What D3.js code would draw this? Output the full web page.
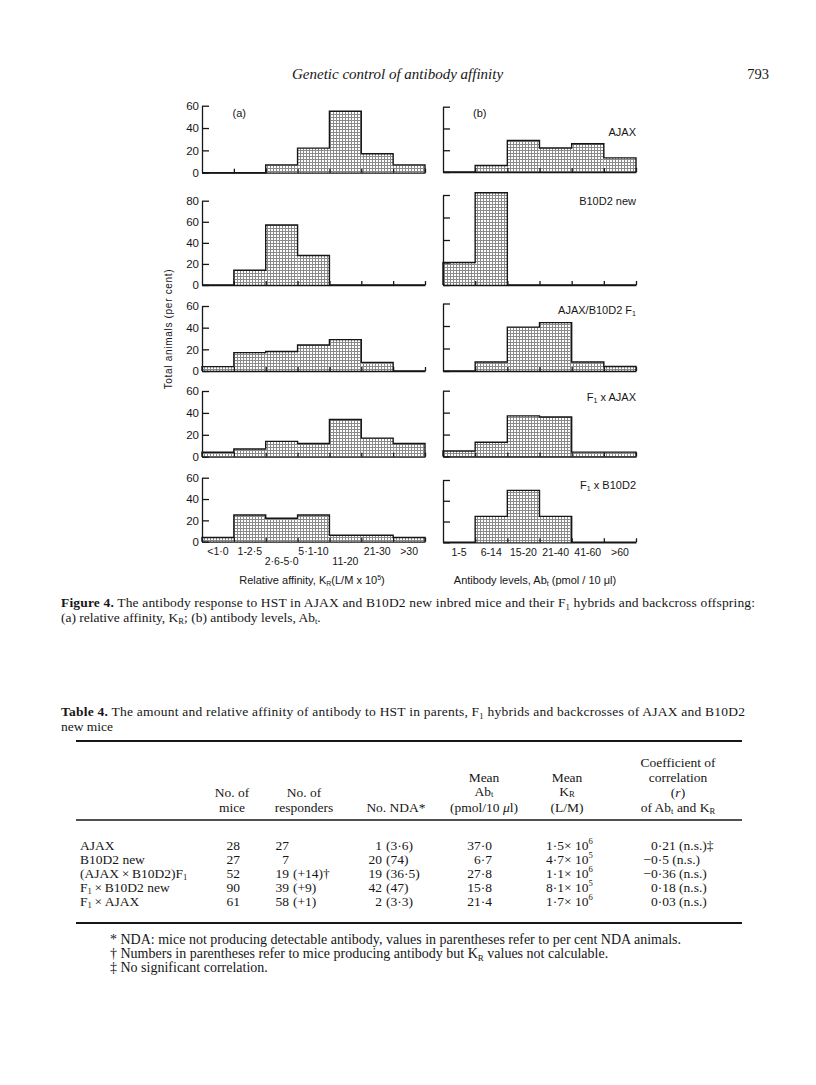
<!DOCTYPE html>
<html><head><meta charset="utf-8">
<script src="https://cdn.jsdelivr.net/npm/d3@7"></script>
<style>body{margin:0;background:#fff}</style>
</head><body>
<svg id="c" width="816" height="1085"></svg>
<script>
// ---------- DATA ----------
const affinityBins = ["<1·0","1-2·5","2·6-5·0","5·1-10","11-20","21-30",">30"];
const antibodyBins = ["1-5","6-14","15-20","21-40","41-60",">60"];
const groupLabels = ["AJAX","B10D2 new","AJAX/B10D2 F_{1}","F_{1} x AJAX","F_{1} x B10D2"];
const affinityAJAX     = [0,0,7,22,55,17,7];
const affinityB10D2    = [0,14,57,28,0,0,0];
const affinityF1       = [4,17,18,24,29,8,0];
const affinityF1xAJAX  = [4,7,14,12,34,17,12];
const affinityF1xB10D2 = [4,25,22,25,6,6,4];
const antibodyAJAX     = [0,6,29,22,26,13];
const antibodyB10D2    = [20,82,0,0,0,0];
const antibodyF1       = [0,8,39,43,8,4];
const antibodyF1xAJAX  = [5,13,37,36,4,4];
const antibodyF1xB10D2 = [0,25,50,25,0,0];
const yTicks60 = [0,20,40,60];
const yTicks80 = [0,20,40,60,80];

const tableRows = ["AJAX","B10D2 new","(AJAX\u2009×\u2009B10D2)F_{1}","F_{1}\u2009×\u2009B10D2 new","F_{1}\u2009×\u2009AJAX"];
const noMice = ["28","27","52","90","61"];
const noResponders = ["27","7","19","39","58"];
const respondersExtra = ["","","(+14)†","(+9)","(+1)"];
const noNDA = ["1","20","19","42","2"];
const ndaPercent = ["(3·6)","(74)","(36·5)","(47)","(3·3)"];
const meanAb = ["37·0","6·7","27·8","15·8","21·4"];
const meanKrMant = ["1·5","4·7","1·1","8·1","1·7"];
const meanKrExp = ["6","5","6","5","6"];
const corrValues = ["0·21","−0·5","−0·36","0·18","0·03"];
const corrNotes = [" (n.s.)‡"," (n.s.)"," (n.s.)"," (n.s.)"," (n.s.)"];

// ---------- HELPERS ----------
const svg = d3.select('#c');
const SANS = "'Liberation Sans', Arial, sans-serif";
const SERIF = "'Liberation Serif', 'Times New Roman', serif";
const INK = '#161616';

function rich(sel, str, fs, subShift){
  const parts = str.split(/(_\{[^}]*\}|\^\{[^}]*\}|\*\{[^}]*\}|~\{[^}]*\})/).filter(s=>s.length);
  let off = 0;
  const ss = subShift === undefined ? 0.2 : subShift;
  parts.forEach(p=>{
    let t = p, target = 0, small = false, bold = false, ital = false;
    if(p.startsWith('_{')){t=p.slice(2,-1); target=fs*ss; small=true;}
    else if(p.startsWith('^{')){t=p.slice(2,-1); target=-fs*0.38; small=true;}
    else if(p.startsWith('*{')){t=p.slice(2,-1); bold=true;}
    else if(p.startsWith('~{')){t=p.slice(2,-1); ital=true;}
    const ts = sel.append('tspan').text(t);
    if(target-off !== 0) ts.attr('dy', target-off);
    if(small) ts.attr('font-size', fs*0.64);
    if(bold) ts.attr('font-weight','bold');
    if(ital) ts.attr('font-style','italic');
    off = target;
  });
  return sel;
}
function txt(x, y, str, o={}){
  const fs = o.size || 13.5;
  const t = svg.append('text').attr('x',x).attr('y',y)
    .attr('font-family', o.family || SERIF).attr('font-size', fs)
    .attr('fill', INK).attr('text-anchor', o.anchor || 'start');
  if(o.style) t.attr('font-style', o.style);
  if(o.weight) t.attr('font-weight', o.weight);
  if(o.ls) t.attr('letter-spacing', o.ls);
  if(o.len) t.attr('textLength', o.len).attr('lengthAdjust','spacing');
  rich(t, str, fs, o.sub);
  return t;
}

// ---------- PATTERN ----------
const pat = svg.append('defs').append('pattern').attr('id','dots')
  .attr('width',3).attr('height',3).attr('patternUnits','userSpaceOnUse');
pat.append('rect').attr('width',3).attr('height',3).attr('fill','#fff');
pat.append('rect').attr('width',3).attr('height',1).attr('fill','#8a8a8a');
pat.append('rect').attr('width',1).attr('height',3).attr('fill','#8a8a8a');

// ---------- CHART ----------
const xLeft = d3.scaleBand().domain(affinityBins).range([202, 425]).padding(0);
const xRight = d3.scaleBand().domain(antibodyBins).range([443, 636]).padding(0);

const rowsLeft = [
  {b:172.7, t:105.7, max:60}, {b:285, t:200.7, max:80}, {b:371, t:306, max:60},
  {b:456.7, t:391, max:60}, {b:541.7, t:477.7, max:60}];
const rowsRight = [
  {b:172, t:106.7, max:60}, {b:285, t:195, max:80}, {b:371, t:303.5, max:60},
  {b:456.5, t:390.7, max:60}, {b:542.3, t:480, max:60}];

function panel(x, row, values, ticks, showLabels){
  const y = d3.scaleLinear().domain([0,row.max]).range([row.b,row.t]);
  const g = svg.append('g');
  const cats = x.domain(), bw = x.bandwidth();
  const data = cats.map((c,i)=>({c, v:values[i]}));
  g.selectAll('rect').data(data.filter(d=>d.v>0)).join('rect')
    .attr('x', d=>x(d.c)).attr('y', d=>y(d.v))
    .attr('width', bw).attr('height', d=>y(0)-y(d.v))
    .attr('fill','url(#dots)');
  const pts = [[x(cats[0]), y(0)]];
  data.forEach(d=>{ pts.push([x(d.c), y(d.v)]); pts.push([x(d.c)+bw, y(d.v)]); });
  pts.push([x(cats[cats.length-1])+bw, y(0)]);
  g.append('path').attr('d', d3.line()(pts)).attr('fill','none')
    .attr('stroke', INK).attr('stroke-width',1.4).attr('stroke-linejoin','miter');
  const ya = d3.axisLeft(y).tickValues(ticks).tickSizeInner(-7).tickSizeOuter(0).tickPadding(3);
  if(!showLabels) ya.tickFormat('');
  const gy = g.append('g').attr('transform',`translate(${x.range()[0]},0)`).call(ya);
  gy.selectAll('path,line').attr('stroke', INK).attr('stroke-width',1.3);
  gy.selectAll('text').attr('font-family',SANS).attr('font-size',11.5).attr('fill',INK);
  const xb = d3.scaleLinear().domain([0,cats.length]).range(x.range());
  const xa = d3.axisBottom(xb).tickValues(d3.range(1,cats.length+1)).tickSizeInner(-4).tickSizeOuter(0).tickFormat('');
  const gx = g.append('g').attr('transform',`translate(0,${row.b})`).call(xa);
  gx.selectAll('path,line').attr('stroke', INK).attr('stroke-width',1.3);
}

const leftSeries = [affinityAJAX, affinityB10D2, affinityF1, affinityF1xAJAX, affinityF1xB10D2];
const rightSeries = [antibodyAJAX, antibodyB10D2, antibodyF1, antibodyF1xAJAX, antibodyF1xB10D2];
leftSeries.forEach((s,i)=> panel(xLeft, rowsLeft[i], s, i===1?yTicks80:yTicks60, true));
rightSeries.forEach((s,i)=> panel(xRight, rowsRight[i], s, i===1?yTicks80:yTicks60, false));

const labelY = [136, 205, 314, 401, 489];
groupLabels.forEach((l,i)=> txt(636, labelY[i], l, {family:SANS, size:11, anchor:'end'}));
txt(232.5, 117, "(a)", {family:SANS, size:11});
txt(473, 117, "(b)", {family:SANS, size:11});

function xLabels(x, row, stagger){
  const g = svg.append('g').attr('transform',`translate(0,${row.b})`)
    .call(d3.axisBottom(x).tickSize(0).tickPadding(6));
  g.select('.domain').remove();
  g.selectAll('text').attr('font-family',SANS).attr('font-size',10.5).attr('fill',INK)
    .attr('dy', (d,i)=> stagger && (i===2||i===4) ? '1.65em' : '0.71em');
}
xLabels(xLeft, rowsLeft[4], true);
xLabels(xRight, rowsRight[4], false);

txt(312, 584, "Relative affinity, K_{R}(L/M x 10^{5})", {family:SANS, size:11, anchor:'middle'});
txt(535, 584, "Antibody levels, Ab_{t} (pmol / 10 μl)", {family:SANS, size:11, anchor:'middle'});
svg.append('text').attr('transform','translate(172,329) rotate(-90)')
  .attr('text-anchor','middle').attr('font-family',SANS).attr('font-size',10)
  .attr('letter-spacing',0.7).attr('fill',INK).text('Total animals (per cent)');

// ---------- PAGE TEXT ----------
txt(292, 79, "Genetic control of antibody affinity", {size:15, style:'italic'});
txt(769, 79, "793", {size:14.5, anchor:'end'});

txt(61, 607, "*{Figure 4.} The antibody response to HST in AJAX and B10D2 new inbred mice and their F_{1} hybrids and backcross offspring:", {size:13.5, len:694});
txt(61, 621.5, "(a) relative affinity, K_{R}; (b) antibody levels, Ab_{t}.", {size:13.5});

txt(61, 716, "*{Table 4.} The amount and relative affinity of antibody to HST in parents, F_{1} hybrids and backcrosses of AJAX and B10D2", {size:13.5, len:684});
txt(61, 730.5, "new mice", {size:13.5});

const rules = [{y:741, w:1.8}, {y:820, w:1.6}, {y:923, w:1.8}];
svg.selectAll('line.rule').data(rules).join('line').attr('class','rule')
  .attr('x1',76).attr('x2',742).attr('y1',d=>d.y).attr('y2',d=>d.y)
  .attr('stroke',INK).attr('stroke-width',d=>d.w);

const hy = [767, 782, 796.5, 811.5];
txt(678, hy[0], "Coefficient of", {anchor:'middle'});
txt(678, hy[1], "correlation", {anchor:'middle'});
txt(678, hy[2], "(~{r})", {anchor:'middle'});
txt(678, hy[3], "of Ab_{t} and K_{R}", {anchor:'middle'});
txt(484, hy[1], "Mean", {anchor:'middle'});
txt(484, hy[2] - 1, "Ab_{t}", {anchor:'middle', sub:0.1});
txt(484, hy[3], "(pmol/10 ~{μ}l)", {anchor:'middle'});
txt(567, hy[1], "Mean", {anchor:'middle'});
txt(567, hy[2] - 1, "K_{R}", {anchor:'middle', sub:0.1});
txt(567, hy[3], "(L/M)", {anchor:'middle'});
txt(232, hy[2], "No. of", {anchor:'middle'});
txt(232, hy[3], "mice", {anchor:'middle'});
txt(304, hy[2], "No. of", {anchor:'middle'});
txt(304, hy[3], "responders", {anchor:'middle'});
txt(396, hy[3], "No. NDA*", {anchor:'middle'});

const rowY = [849.5, 863.5, 877.5, 891.5, 905.5];
tableRows.forEach((r,i)=>{
  const y = rowY[i];
  txt(80, y, r);
  txt(240, y, noMice[i], {anchor:'end'});
  txt(289, y, noResponders[i], {anchor:'end'});
  if(respondersExtra[i]) txt(293, y, respondersExtra[i]);
  txt(382, y, noNDA[i], {anchor:'end'});
  txt(386, y, ndaPercent[i]);
  txt(492, y, meanAb[i], {anchor:'end'});
  txt(546, y, meanKrMant[i] + "× 10^{" + meanKrExp[i] + "}");
  const v = corrValues[i];
  if(v.startsWith('−')){ txt(651, y, '−', {anchor:'end'}); txt(651, y, v.slice(1) + corrNotes[i]); }
  else txt(651, y, v + corrNotes[i]);
});

txt(110, 944, "* NDA: mice not producing detectable antibody, values in parentheses refer to per cent NDA animals.", {size:14});
txt(110, 958, "† Numbers in parentheses refer to mice producing antibody but K_{R} values not calculable.", {size:14});
txt(110, 971.5, "‡ No significant correlation.", {size:14});
</script>
</body></html>
